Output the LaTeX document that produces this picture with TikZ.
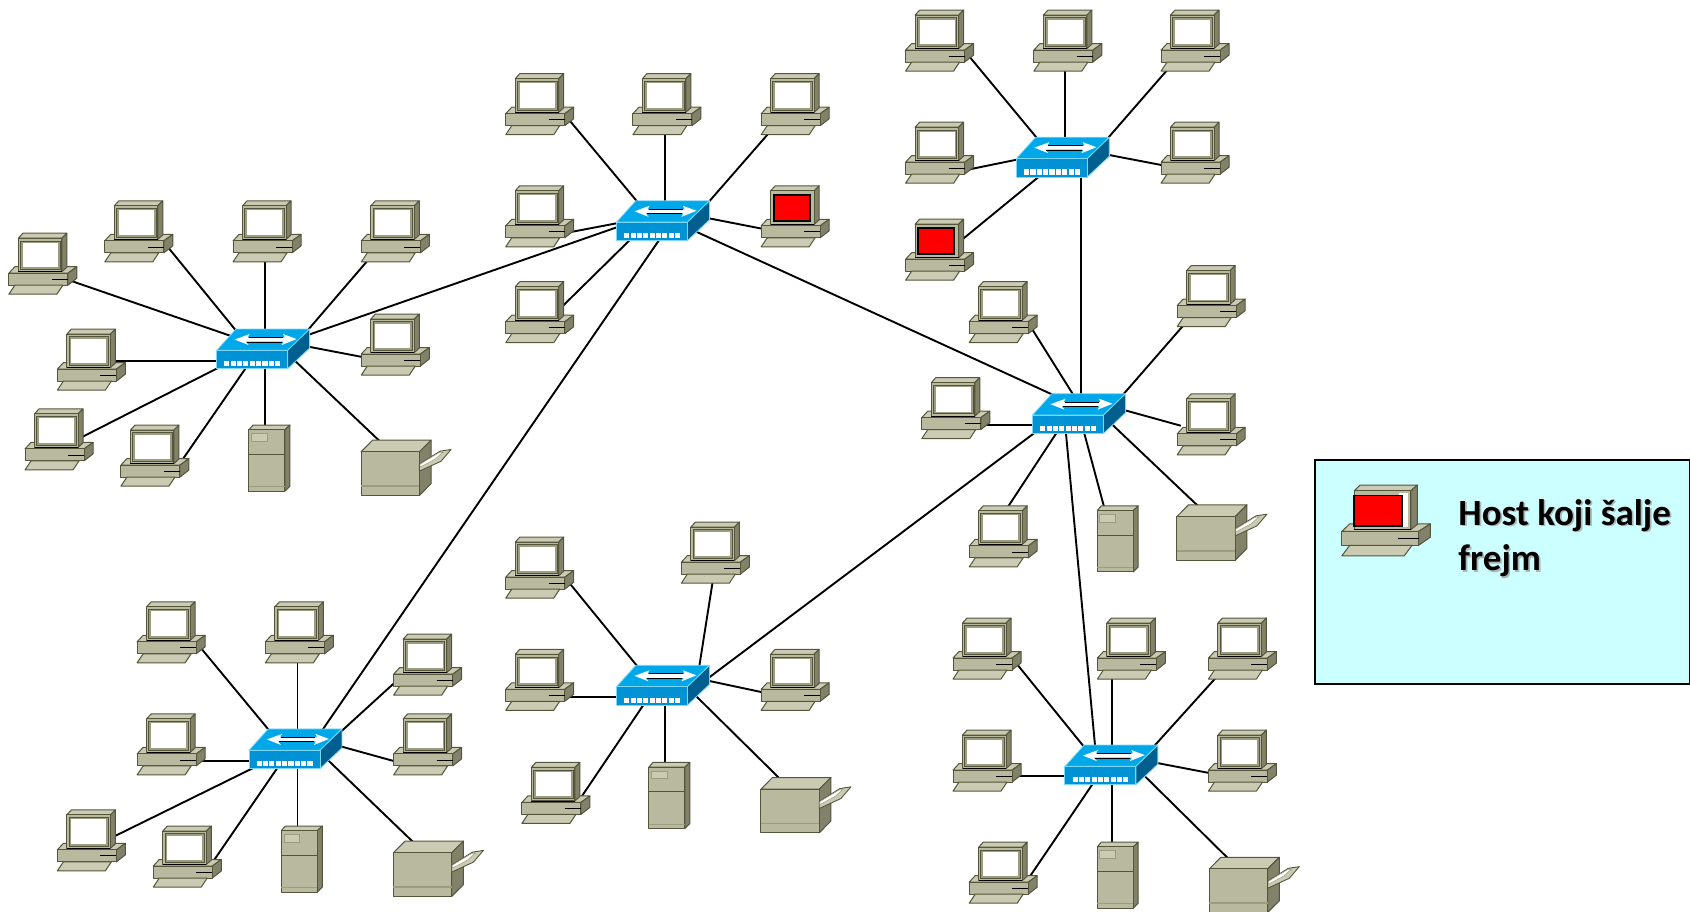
\documentclass[tikz,border=0pt]{standalone}
\usepackage{fontspec}
\setmainfont{Carlito}
\usetikzlibrary{calc}
\definecolor{dface}{HTML}{B9B99F}
\definecolor{dtop}{HTML}{CBCBB3}
\definecolor{dside}{HTML}{82826A}
\definecolor{dline}{HTML}{55553C}
\definecolor{dbezel}{HTML}{9C9C80}
\definecolor{stop}{HTML}{00A8EA}
\definecolor{sfront}{HTML}{0092D4}
\definecolor{sside}{HTML}{005F8F}
\definecolor{sline}{HTML}{7CD8F8}
\definecolor{legendbg}{HTML}{CCFFFF}
\pgfdeclarelayer{links}
\pgfsetlayers{links,main}
\tikzset{
  link/.style={line width=1.9pt,black,shorten <=-4pt,shorten >=-4pt},
  devface/.style={fill=dface,draw=dline,line width=1pt,line join=round},
  devtop/.style={fill=dtop,draw=dline,line width=1pt,line join=round},
  devside/.style={fill=dside,draw=dline,line width=1pt,line join=round},
  swtop/.style={fill=stop,draw=sline,line width=.8pt,line join=round},
  swfront/.style={fill=sfront,draw=sline,line width=.8pt,line join=round},
  swside/.style={fill=sside,draw=sline,line width=.8pt,line join=round},
  hostbox/.style={minimum width=63,minimum height=57,inner sep=0pt,outer sep=0pt},
  serverbox/.style={minimum width=38,minimum height=61,inner sep=0pt,outer sep=0pt},
  printerbox/.style={minimum width=84,minimum height=53,inner sep=0pt,outer sep=0pt},
  switchbox/.style={minimum width=86,minimum height=37,inner sep=0pt,outer sep=0pt},
  legendbox/.style={fill=legendbg,draw=black,line width=1.8pt,inner sep=0pt},
  legendtext/.style={font=\fontsize{37}{45.5}\selectfont\bfseries,align=left,anchor=north west,inner sep=0pt},
}
\newcommand\hostbody[1]{%
  \path[devtop] (0,40) -- (6,33.5) -- (68,33.5) -- (59,40) -- cycle;
  \path[devside] (59,40) -- (68,33.5) -- (68,45) -- (59,52) -- cycle;
  \path[devface] (0,40) rectangle (59,52);
  \draw[black,line width=.8pt] (43,46) -- (59,46);
  \path[devtop] (0,61) -- (6,52) -- (54,52) -- (48,61) -- cycle;
  \path[devtop] (9.5,5) -- (14,0) -- (58,0) -- (53,5) -- cycle;
  \path[devside] (53,5) -- (58,0) -- (58,34) -- (53,38.5) -- cycle;
  \path[devface] (9.5,5) rectangle (53,38.5);
  \draw[black,line width=.8pt] (9.5,38.5) -- (53,38.5);
  #1}
\newcommand\whitescreen{%
  \path[fill=dbezel,draw=dline,line width=.4pt] (11.5,7.5) rectangle (51,36);
  \path[fill=white] (14,9.5) rectangle (49,34);}
\newcommand\redscreen{%
  \path[fill=red,draw=black,line width=1.8pt] (12.5,9) rectangle (48.5,35);}
\newcommand\hostpic[3]{\begin{scope}[shift={(#1+.2,#2+.4)},x=1pt,y=-1pt]\hostbody{#3}\end{scope}}
\newcommand\host[3]{\node[hostbox] (#1) at (#2+29,#3+27) {};\hostpic{#2}{#3}{\whitescreen}}
\newcommand\redhost[3]{\node[hostbox] (#1) at (#2+29,#3+27) {};\hostpic{#2}{#3}{\redscreen}}
\newcommand\server[3]{\node[serverbox] (#1) at (#2+19,#3+30) {};
  \begin{scope}[shift={(#2,#3+.4)},x=1pt,y=-1pt]
  \path[devtop] (0,4.7) -- (4,0) -- (41,0) -- (36,4.7) -- cycle;
  \path[devside] (36,4.7) -- (41,0) -- (41,61) -- (36,66) -- cycle;
  \path[devface] (0,4.7) rectangle (36,66);
  \path[fill=dtop,draw=dbezel,line width=.5pt] (2.5,8.5) rectangle (18,16);
  \draw[dline,line width=.7pt] (0,29) -- (36,29);
  \draw[dbezel,line width=.9pt] (0,61.5) -- (36,61.5);
  \end{scope}}
\newcommand\printer[3]{\node[printerbox] (#1) at (#2+42,#3+26) {};
  \begin{scope}[shift={(#2,#3+.4)},x=1pt,y=-1pt]
  \path[devtop] (0,11.7) -- (11.5,0) -- (70,0) -- (58.3,11.7) -- cycle;
  \path[devside] (58.3,11.7) -- (70,0) -- (70,43.5) -- (58.3,55.3) -- cycle;
  \path[devface] (0,11.7) rectangle (58.3,55.3);
  \draw[dbezel,line width=1.6pt] (0,46) -- (58.3,46);
  \path[fill=dtop,draw=dline,line width=.9pt,line join=round] (58.3,24) -- (79,11) -- (90,9.3) -- (80,21) -- (58.3,31) -- cycle;
  \path[fill=white,draw=dbezel,line width=.5pt] (59,24) -- (78,12.5) -- (82,12) -- (74,19) -- (59,27) -- cycle;
  \end{scope}}
\newcommand\switch[3]{\node[switchbox] (#1) at (#2+43,#3+18.5) {};
  \begin{scope}[shift={(#2,#3+.3)},x=1pt,y=-1pt]
  \path[swtop] (0,21.3) -- (19.3,0) -- (93,0) -- (71,21.3) -- cycle;
  \path[swside] (71,21.3) -- (93,0) -- (93,19) -- (71,39.7) -- cycle;
  \path[swfront] (0,21.3) rectangle (71,39.7);
  \foreach \i in {0,...,8}{\path[fill=white] (7.7+6.35*\i,32.2) rectangle ++(5.1,5.2);}
  \path[fill=white] (18,10.5) -- (33,5) -- (31,8.5) -- (68,8.5) -- (66.5,5) -- (80,10) -- (65,16) -- (67,12.5) -- (29,12.5) -- (32,16) -- cycle;
  \draw[black,line width=.7pt] (32,8.2) -- (66.5,8.2);
  \draw[black,line width=.7pt] (30,12.8) -- (65.5,12.8);
  \end{scope}}
\newcommand\lnk[4]{\begin{pgfonlayer}{links}
  \coordinate (#1-#2-a) at (#3);\coordinate (#2-#1-b) at (#4);
  \draw[link] (#1-#2-a) -- (#2-#1-b);
  \end{pgfonlayer}}
\begin{document}
\begin{tikzpicture}[x=1.07781pt,y=-1.07781pt]
\useasboundingbox (0,0) rectangle (1568,845.26);
\switch{swA}{201}{305}
\switch{swB}{572}{186}
\switch{swC}{943}{127}
\switch{swD}{958}{365}
\switch{swE}{231}{676}
\switch{swF}{572}{617}
\switch{swG}{988}{691}
\host{a1}{8}{216}\lnk{a1}{swA}{70,262}{218,313}
\host{a2}{97}{186}\lnk{a2}{swA}{158,232}{220,308}
\host{a3}{216}{186}\lnk{a3}{swA}{246,243}{246,305}
\host{a4}{335}{186}\lnk{a4}{swA}{340,243}{285,307}
\host{a5}{53}{305}\lnk{a5}{swA}{107,335}{203,335}
\host{a6}{335}{291}\lnk{a6}{swA}{335,331}{288,322}
\host{a7}{23}{379}\lnk{a7}{swA}{77,405}{203,341}
\host{a8}{112}{394}\lnk{a8}{swA}{171,424}{227,343}
\server{a9}{231}{394}\lnk{a9}{swA}{246,394}{246,343}
\printer{a10}{335}{408}\lnk{a10}{swA}{352,409}{275,336}
\host{b1}{469}{68}\lnk{b1}{swB}{527,110}{592,188}
\host{b2}{587}{68}\lnk{b2}{swB}{617,125}{617,186}
\host{b3}{706}{68}\lnk{b3}{swB}{712,125}{657,188}
\host{b4}{469}{172}\lnk{b4}{swB}{531,215}{573,207}
\redhost{b5}{706}{172}\lnk{b5}{swB}{706,212}{660,203}
\host{b6}{469}{261}\lnk{b6}{swB}{522,284}{583,224}
\host{c1}{840}{9}\lnk{c1}{swC}{899,52}{962,128}
\host{c2}{959}{9}\lnk{c2}{swC}{988,66}{988,127}
\host{c3}{1077}{9}\lnk{c3}{swC}{1082,66}{1028,128}
\host{c4}{840}{113}\lnk{c4}{swC}{900,157}{944,148}
\host{c5}{1077}{113}\lnk{c5}{swC}{1077,153}{1030,144}
\redhost{c6}{840}{203}\lnk{c6}{swC}{893,222}{965,163}
\host{d1}{899}{261}\lnk{d1}{swD}{958,306}{995,365}
\host{d2}{1092}{246}\lnk{d2}{swD}{1097,303}{1043,365}
\host{d3}{855}{350}\lnk{d3}{swD}{917,394}{959,394}
\host{d4}{1092}{365}\lnk{d4}{swD}{1092,394}{1045,381}
\host{d5}{899}{469}\lnk{d5}{swD}{936,469}{980,402}
\server{d6}{1018}{469}\lnk{d6}{swD}{1024,469}{1006,402}
\printer{d7}{1092}{468}\lnk{d7}{swD}{1110,468}{1032,394}
\host{e1}{127}{558}\lnk{e1}{swE}{187,602}{250,678}
\host{e2}{246}{558}\lnk{e2}{swE}{276,614}{276,676}
\host{e3}{365}{588}\lnk{e3}{swE}{372,628}{315,680}
\host{e4}{127}{662}\lnk{e4}{swE}{189,706}{232,706}
\host{e5}{365}{662}\lnk{e5}{swE}{365,706}{318,693}
\host{e6}{53}{751}\lnk{e6}{swE}{106,776}{234,713}
\host{e7}{142}{766}\lnk{e7}{swE}{200,796}{257,713}
\server{e8}{261}{766}\lnk{e8}{swE}{276,766}{276,713}
\printer{e9}{365}{780}\lnk{e9}{swE}{382,780}{304,705}
\host{f1}{469}{498}\lnk{f1}{swF}{530,543}{592,619}
\host{f2}{632}{484}\lnk{f2}{swF}{661,541}{649,617}
\host{f3}{469}{602}\lnk{f3}{swF}{528,647}{573,647}
\host{f4}{706}{602}\lnk{f4}{swF}{706,642}{659,632}
\host{f5}{484}{707}\lnk{f5}{swF}{541,737}{597,654}
\server{f6}{602}{707}\lnk{f6}{swF}{617,707}{617,654}
\printer{f7}{706}{721}\lnk{f7}{swF}{722,721}{645,645}
\host{g1}{884}{573}\lnk{g1}{swG}{945,618}{1005,692}
\host{g2}{1018}{573}\lnk{g2}{swG}{1032,630}{1032,691}
\host{g3}{1121}{573}\lnk{g3}{swG}{1127,630}{1071,692}
\host{g4}{884}{677}\lnk{g4}{swG}{946,720}{989,720}
\host{g5}{1121}{677}\lnk{g5}{swG}{1121,717}{1074,708}
\host{g6}{899}{781}\lnk{g6}{swG}{957,811}{1014,727}
\server{g7}{1018}{781}\lnk{g7}{swG}{1032,781}{1032,727}
\printer{g8}{1122}{795}\lnk{g8}{swG}{1138,795}{1062,720}
\lnk{swA}{swB}{288,310}{572,211}
\lnk{swB}{swD}{646,215}{985,370}
\lnk{swB}{swE}{612,222}{300,676}
\lnk{swC}{swD}{1003,163}{1003,365}
\lnk{swD}{swF}{962,400}{660,627}
\lnk{swD}{swG}{989,402}{1016,692}
\node[legendbox,minimum width=375pt,minimum height=224pt,anchor=north west] (legend) at (1219,426) {};
\begin{scope}[shift={(1245,450)},x=1.3pt,y=-1.16pt]
  \hostbody{%
    \path[fill=white] (44,7) rectangle (51,36);
    \path[fill=red,draw=black,line width=1.8pt] (9.5,9) rectangle (46,35);}
\end{scope}
\node[legendtext,text=black!35,opacity=.8] (legendshadow) at (1354.6,464.6) {Host koji šalje\\frejm};
\node[legendtext] (legendlabel) at (1353,463) {Host koji šalje\\frejm};
\end{tikzpicture}
\end{document}
